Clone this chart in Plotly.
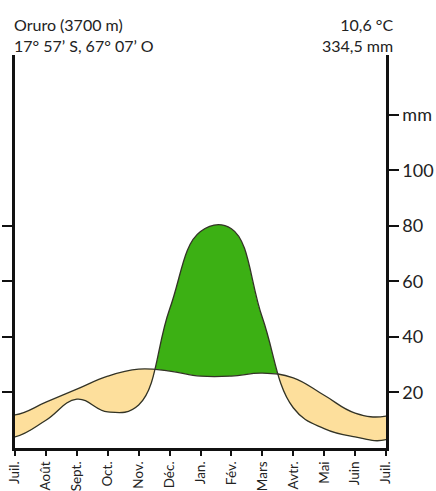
import plotly.graph_objects as go

# ---- data ----
months = ["Juil.", "Août", "Sept.", "Oct.", "Nov.", "Déc.", "Jan.", "Fév.",
          "Mars", "Avtr.", "Mai", "Juin", "Juil."]
temp_c = [5.95, 8.25, 10.6, 12.95, 14.2, 13.85, 12.95, 12.95, 13.5, 12.65, 9.5, 6.3, 5.75]
precip_mm = [4.0, 10.0, 17.6, 13.0, 15.5, 50.0, 78.0, 79.0, 47.0, 14.5, 7.0, 4.0, 3.0]
mm_ticks = [20, 40, 60, 80, 100, 120]
mm_ticktext = ["20", "40", "60", "80", "100", "mm"]
c_ticks = [10, 20, 30, 40]
station_left = "Oruro (3700 m)<br>17° 57’ S, 67° 07’ O"
station_right = "10,6 °C<br>334,5 mm"

YELLOW = "#FDDF9C"
GREEN = "#3CB014"
LINE = "#333326"
FONT = "Lato"
SMOOTH = 1.2

n = len(months)
xi = list(range(n))
# Walter-Lieth convention: 10 °C = 20 mm
temp_mm = [t * 2 for t in temp_c]

# cyclic extension (one month before / after, taken from the data) so the
# curves continue smoothly past the axis edges (clipped by the plot area)
x_ext = [-1] + xi + [n]
def ext(v):
    return [v[-2]] + list(v) + [v[1]]
T_e = ext(temp_mm)
P_e = ext(precip_mm)

Y_MAX = 141.6  # top of the axes, in mm

fig = go.Figure()
spl = dict(width=0, shape="spline", smoothing=SMOOTH)

# 1) area under temperature curve -> yellow
fig.add_trace(go.Scatter(x=x_ext, y=T_e, mode="lines", fill="tozeroy",
                         fillcolor=YELLOW, line=spl,
                         hoverinfo="skip", showlegend=False))
# 2) area under precipitation curve -> green
fig.add_trace(go.Scatter(x=x_ext, y=P_e, mode="lines", fill="tozeroy",
                         fillcolor=GREEN, line=spl,
                         hoverinfo="skip", showlegend=False))
# 3) white mask over the region below both curves (and above both):
#    big rectangle (one winding) + loop under T + loop under P (opposite winding)
lo, hi = -500, 800
xl, xr = x_ext[0] - 40, x_ext[-1] + 40
floor = -20
mx = [xl, xr, xr, xl, None] + x_ext + [x_ext[-1], x_ext[0], None] + x_ext + [x_ext[-1], x_ext[0]]
my = [lo, lo, hi, hi, None] + T_e + [floor, floor, None] + P_e + [floor, floor]
fig.add_trace(go.Scatter(x=mx, y=my, mode="lines", fill="toself", fillcolor="white",
                         line=dict(spl, simplify=False),
                         connectgaps=False, hoverinfo="skip", showlegend=False))
# 4) outlines
fig.add_trace(go.Scatter(x=x_ext, y=P_e, mode="lines",
                         line=dict(color=LINE, width=1.3, shape="spline", smoothing=SMOOTH),
                         hoverinfo="skip", showlegend=False))
fig.add_trace(go.Scatter(x=x_ext, y=ext(temp_c), mode="lines", yaxis="y2",
                         line=dict(color=LINE, width=1.3, shape="spline", smoothing=SMOOTH),
                         hoverinfo="skip", showlegend=False))

axis_common = dict(showgrid=False, zeroline=False, showline=True, automargin=False,
                   linecolor="#111", ticks="outside", tickcolor="#111")

fig.update_layout(
    width=436, height=491,
    margin=dict(l=15, r=50, t=55, b=43, autoexpand=False),
    paper_bgcolor="white", plot_bgcolor="white",
    font=dict(family=FONT, color="#222"),
    xaxis=dict(range=[0, n - 1], tickvals=xi, ticktext=months, tickangle=-90,
               linewidth=3, ticklen=5, tickwidth=2,
               tickfont=dict(size=13.5), **axis_common),
    yaxis=dict(range=[0, Y_MAX], side="right", tickvals=mm_ticks,
               ticktext=mm_ticktext, linewidth=2.5, ticklen=10, tickwidth=2,
               tickfont=dict(size=18), **axis_common),
    yaxis2=dict(range=[0, Y_MAX / 2], side="left", overlaying="y",
                tickvals=c_ticks, linewidth=3, ticklen=10, tickwidth=2,
                tickfont=dict(size=18), **axis_common),
    annotations=[
        dict(text=station_left, xref="paper", yref="paper", x=-0.008, y=1.052,
             xanchor="left", yanchor="middle", align="left", showarrow=False,
             font=dict(size=16, family=FONT, color="#222")),
        dict(text=station_right, xref="paper", yref="paper", x=1.024, y=1.052,
             xanchor="right", yanchor="middle", align="right", showarrow=False,
             font=dict(size=16, family=FONT, color="#222")),
    ],
)

fig.write_html("out.html")
